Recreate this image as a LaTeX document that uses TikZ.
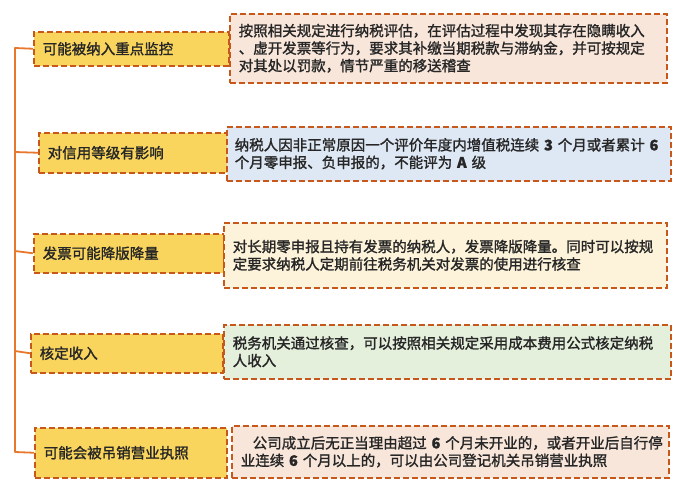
\documentclass[tikz,border=0pt]{standalone}
\usepackage{fontspec}
\setmainfont{Noto Sans CJK SC}
\newfontfamily\midfont[FakeBold=1.4]{Noto Sans CJK SC}
\usetikzlibrary{positioning}
\definecolor{linec}{HTML}{E8772E}
\definecolor{dashc}{HTML}{C8581A}
\definecolor{labc}{HTML}{F9D55E}
\definecolor{peachc}{HTML}{F8E6DA}
\definecolor{bluec}{HTML}{DEE8F4}
\definecolor{creamc}{HTML}{FDF3DA}
\definecolor{greenc}{HTML}{E4EFDC}
\definecolor{textc}{HTML}{262626}
\tikzset{
  dbox/.style={draw=dashc,line width=1.5pt,dash pattern=on 6pt off 3pt,anchor=north west,
    inner xsep=9pt,inner ysep=0pt,align=left,text=textc},
  lab/.style={dbox,fill=labc,font=\fontsize{14.5}{17.5}\selectfont\midfont},
  desc/.style={dbox,fill=#1,font=\fontsize{14.5}{17.5}\selectfont\midfont},
  ln/.style={linec,line width=1.8pt,line join=round}
}
\begin{document}
\begin{tikzpicture}[x=1pt,y=-1pt]
\useasboundingbox (0,0) rectangle (700,493);
% left labels
\node[lab,text width=177pt,minimum height=34pt] (lab1) at (33,31) {可能被纳入重点监控};
\node[lab,text width=170pt,minimum height=40pt] (lab2) at (38,132) {对信用等级有影响};
\node[lab,text width=172pt,minimum height=39pt] (lab3) at (33,233) {发票可能降版降量};
\node[lab,text width=174pt,minimum height=39pt] (lab4) at (30,333) {核定收入};
\node[lab,text width=174pt,minimum height=50pt] (lab5) at (34,427) {可能会被吊销营业执照};
% descriptions
\node[desc=peachc,text width=419pt,minimum height=69pt] (txt1) at (229,13)
  {按照相关规定进行纳税评估，在评估过程中发现其存在隐瞒收入\\、虚开发票等行为，要求其补缴当期税款与滞纳金，并可按规定\\对其处以罚款，情节严重的移送稽查};
\node[desc=bluec,text width=428pt,minimum height=54pt,inner xsep=8pt] (txt2) at (226,126)
  {纳税人因非正常原因一个评价年度内增值税连续~\textbf{3}~个月或者累计~\textbf{6}\\个月零申报、负申报的，不能评为~\textbf{A}~级};
\node[desc=creamc,text width=425pt,minimum height=65pt] (txt3) at (223,222)
  {对长期零申报且持有发票的纳税人，发票降版降量。同时可以按规\\定要求纳税人定期前往税务机关对发票的使用进行核查};
\node[desc=greenc,text width=429pt,minimum height=54pt] (txt4) at (223,324)
  {税务机关通过核查，可以按照相关规定采用成本费用公式核定纳税\\人收入};
\node[desc=peachc,text width=419pt,minimum height=52pt] (txt5) at (231,425)
  {\hspace*{12pt}公司成立后无正当理由超过~\textbf{6}~个月未开业的，或者开业后自行停\\业连续~\textbf{6}~个月以上的，可以由公司登记机关吊销营业执照};
% spine
\coordinate (sp1) at (15,48);
\coordinate (sp2) at (15,152);
\coordinate (sp3) at (15,251);
\coordinate (sp4) at (15,351);
\coordinate (sp5) at (15,452);
\draw[ln] (lab1.west) -- (sp1) -- (sp5) -- (lab5.west);
\foreach \i in {2,3,4}
  \draw[ln] (sp\i) -- (lab\i.west);
\end{tikzpicture}
\end{document}
